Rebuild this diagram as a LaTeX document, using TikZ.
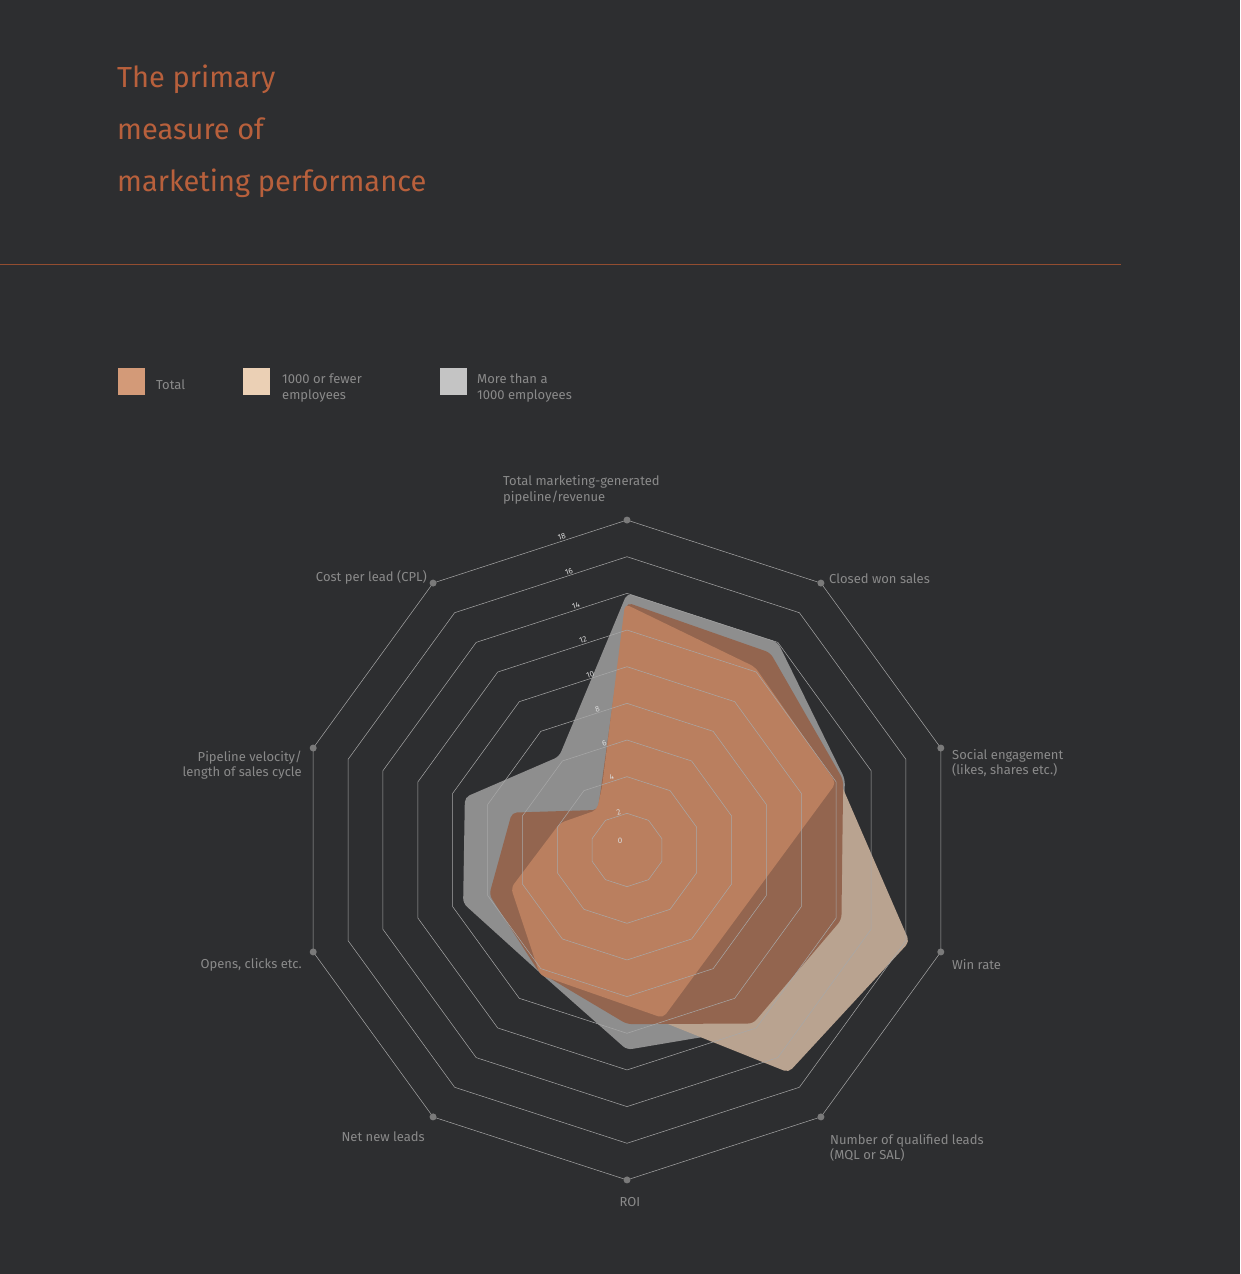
\documentclass[tikz,border=0pt]{standalone}
\usepackage{fontspec}
\setmainfont{Fira Sans}
\definecolor{bg}{HTML}{2D2E30}
\definecolor{ttl}{HTML}{B8603C}
\definecolor{lbl}{HTML}{8A8A8A}
\definecolor{ring}{HTML}{A8A8A8}
\definecolor{cgray}{HTML}{8E8E8E}
\definecolor{cbeige}{HTML}{B9A390}
\definecolor{cdark}{HTML}{93654F}
\definecolor{clight}{HTML}{BA7F5F}
\definecolor{lgA}{HTML}{D39A78}
\definecolor{lgB}{HTML}{EBD0B5}
\definecolor{lgC}{HTML}{C4C4C4}
\definecolor{dotc}{HTML}{7A7A7A}
\tikzset{axlabel/.style={text=lbl,font=\fontsize{13}{15.5}\selectfont,inner sep=0pt,align=left},
 poly/.style={rounded corners=5pt},
 tick/.style={text=white!85!black,font=\fontsize{8}{9}\selectfont,inner sep=1pt,rotate=18,anchor=south}}
\begin{document}
\begin{tikzpicture}[x=1pt,y=1pt]
\fill[bg] (0,0) rectangle (1240,1274);
\useasboundingbox (0,0) rectangle (1240,1274);
% title
\node[anchor=base west,text=ttl,font=\fontsize{29}{38}\selectfont,inner sep=0pt] (t1) at (117,1186) {The primary};
\node[anchor=base west,text=ttl,font=\fontsize{29}{38}\selectfont,inner sep=0pt] (t2) at (117,1134) {measure of};
\node[anchor=base west,text=ttl,font=\fontsize{29}{38}\selectfont,inner sep=0pt] (t3) at (117,1082) {marketing performance};
\draw[ttl!80!black,line width=0.8pt] (0,1010) -- (1121,1010);
% legend
\fill[lgA] (118,879) rectangle (145,906);
\fill[lgB] (243,879) rectangle (270,906);
\fill[lgC] (440,879) rectangle (467,906);
\node[axlabel,anchor=base west] (l1) at (156,884) {Total};
\node[axlabel,anchor=north west] (l2) at (282,900) {1000 or fewer\\employees};
\node[axlabel,anchor=north west] (l3) at (477,900) {More than a\\1000 employees};
\begin{scope}[shift={(627,424)}]
\def\u{18.33}
% gray
\fill[cgray,poly] (90:{14*\u}) -- (54:{14*\u}) -- (18:{12.5*\u}) -- (-18:{12.3*\u}) -- (-54:{12*\u}) -- (-90:{10.9*\u}) -- (-126:{8.2*\u}) -- (-162:{9.4*\u}) -- (162:{9.3*\u}) -- (126:{6.3*\u}) -- cycle;
% beige
\fill[cbeige,poly] (90:{13.4*\u}) -- (54:{12.8*\u}) -- (18:{12.2*\u}) -- (-18:{16.2*\u}) -- (-54:{15*\u}) -- (-90:{8.6*\u}) -- (-126:{8.2*\u}) -- (-162:{7.5*\u}) -- (162:{6*\u}) -- (126:{2.5*\u}) -- cycle;
% total dark
\fill[cdark,poly] (90:{13.5*\u}) -- (54:{13.3*\u}) -- (18:{12.4*\u}) -- (-18:{12.3*\u}) -- (-54:{11.7*\u}) -- (-90:{9.5*\u}) -- (-126:{8.2*\u}) -- (-162:{7.9*\u}) -- (162:{6.6*\u}) -- (126:{2.7*\u}) -- cycle;
% light overlap
\fill[clight,poly] (-2,246) -- (128,183) -- (209,67) -- (36,-168) -- (-87,-125) -- (-116,-38) -- (-67,27) -- (-30,40) -- (-25,63) -- cycle;
% rings
\foreach \v in {2,4,...,18}{
  \draw[ring,line width=0.5pt] (90:{\v*\u}) \foreach \a in {54,18,...,-270}{ -- (\a:{\v*\u})} -- cycle;
  \path (90:{\v*\u}) -- node[tick,pos=0.33] {\v} (126:{\v*\u});
}
\node[tick,rotate=-18] at (-7,5) {0};
\foreach \a in {90,54,18,-18,-54,-90,-126,-162,162,126}
  \fill[dotc] (\a:{18*\u}) circle (3.5pt);
\end{scope}
% axis labels
\node[axlabel,anchor=south west] (a1) at (503,770) {Total marketing-generated\\pipeline/revenue};
\node[axlabel,anchor=west] (a2) at (829,695) {Closed won sales};
\node[axlabel,anchor=west] (a3) at (952,511) {Social engagement\\(likes, shares etc.)};
\node[axlabel,anchor=west] (a4) at (952,309) {Win rate};
\node[axlabel,anchor=west] (a5) at (830,126) {Number of qualified leads\\(MQL or SAL)};
\node[axlabel,anchor=center] (a6) at (630,72) {ROI};
\node[axlabel,anchor=east] (a7) at (425,137) {Net new leads};
\node[axlabel,anchor=east] (a8) at (302,309) {Opens, clicks etc.};
\node[axlabel,anchor=east,align=right] (a9) at (302,509) {Pipeline velocity/\\length of sales cycle};
\node[axlabel,anchor=east] (a10) at (427,697) {Cost per lead (CPL)};
\end{tikzpicture}
\end{document}
